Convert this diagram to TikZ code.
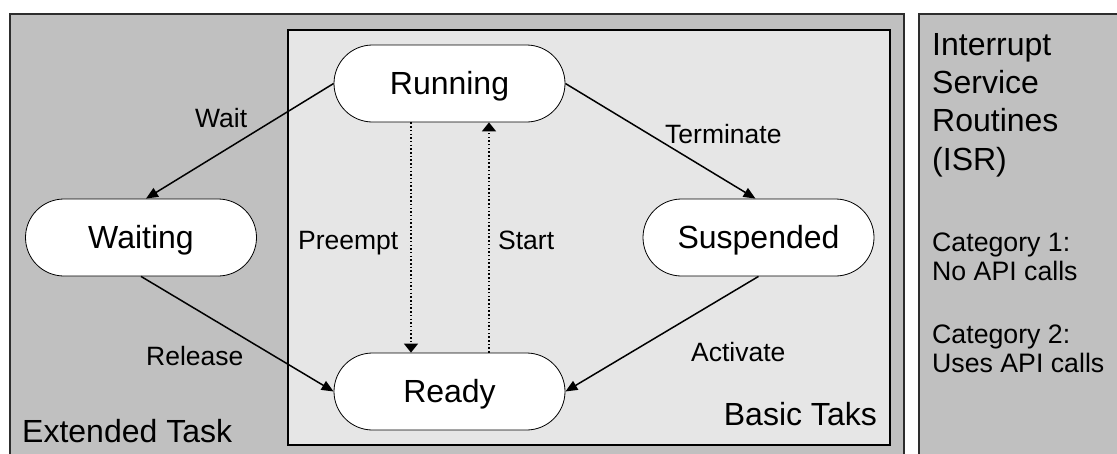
\documentclass[tikz,border=0pt]{standalone}
\usepackage{fontspec}
\setmainfont{Liberation Sans}
\usetikzlibrary{arrows.meta}
\definecolor{outerfill}{RGB}{192,192,192}
\definecolor{innerfill}{RGB}{230,230,230}
\definecolor{frameline}{RGB}{45,45,45}

\begin{document}
\begin{tikzpicture}[x=1pt,y=-1pt,
  state/.style={draw=black, line width=0.8pt, fill=white, rounded corners=38.5pt,
    minimum width=231pt, minimum height=77pt, inner sep=0pt,
    text height=22.9pt, text depth=0pt, font=\fontsize{32}{38}\selectfont},
  trans/.style={draw=black, line width=1.5pt, -{Triangle[length=12pt,width=10pt]}},
  dotflow/.style={draw=black, line width=1.5pt, dash pattern=on 1.5pt off 2.2pt,
    -{Triangle[length=9pt,width=14pt]}},
  lbl/.style={anchor=base west, inner sep=0pt, font=\fontsize{26.5}{30}\selectfont},
  big/.style={anchor=base west, inner sep=0pt, font=\fontsize{32}{38}\selectfont},
  cat/.style={anchor=base west, inner sep=0pt, font=\fontsize{26.7}{30}\selectfont},
  panel/.style={fill=outerfill, draw=frameline, line width=2pt},
]
\useasboundingbox (0,0) rectangle (1117,453);
\fill[white] (0,0) rectangle (1117,453);
\clip (0,0) rectangle (1117,453);

% extended task area, ISR panel and basic task area
\path[panel] (10,14) rectangle (904,475);
\path[panel] (919,14) rectangle (1135,475);
\path[fill=innerfill, draw=black, line width=2pt] (288,30) rectangle (890,445);

% task states
\node[state] (run)   at (449.5,83.5)  {Running};
\node[state] (wait)  at (141,237.5)   {Waiting};
\node[state] (susp)  at (758.5,237.5) {Suspended};
\node[state] (ready) at (449.5,391.5) {Ready};

% transitions
\draw[trans] (run.west) -- ([xshift=5pt]wait.north);
\draw[trans] (wait.south) -- (ready.west);
\draw[trans] (run.east) -- ([xshift=-3pt]susp.north);
\draw[trans] (susp.south) -- (ready.east);
\draw[dotflow] ([xshift=-38.5pt]run.south) -- ([xshift=-38.5pt]ready.north);
\draw[dotflow] ([xshift=39.5pt]ready.north) -- ([xshift=39.5pt]run.south);

% transition labels
\node[lbl] (lwait)  at (195,127)   {Wait};
\node[lbl] (lterm)  at (665,143)   {Terminate};
\node[lbl] (lpre)   at (298,249.5) {Preempt};
\node[lbl] (lstart) at (498,249.5) {Start};
\node[lbl] (lrel)   at (146,365.5) {Release};
\node[lbl] (lact)   at (691,361.5) {Activate};

% area titles
\node[big] (ext) at (22,442) {Extended Task};
\node[big, anchor=base east] (basic) at (877,425) {Basic Taks};

% ISR panel text
\node[big] (isra) at (932,55)    {Interrupt};
\node[big] (isrb) at (932,93.3)  {Service};
\node[big] (isrc) at (932,131.6) {Routines};
\node[big] (isrd) at (932,170)   {(ISR)};
\node[cat] (cata) at (932,251) {Category 1:};
\node[cat] (catb) at (932,280) {No API calls};
\node[cat] (catc) at (932,343) {Category 2:};
\node[cat] (catd) at (932,372) {Uses API calls};
\end{tikzpicture}
\end{document}
